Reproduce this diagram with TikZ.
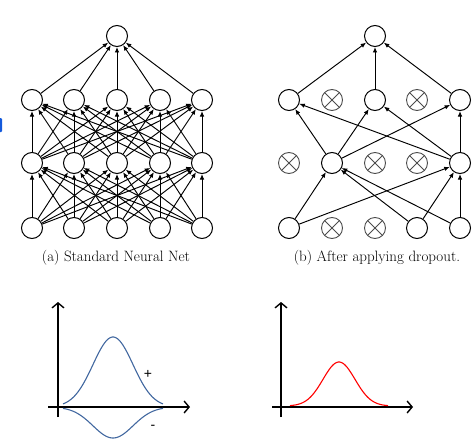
\documentclass[tikz,border=0pt]{standalone}
\usepackage{fontspec}
\newfontfamily\signfont{Liberation Sans}
\usetikzlibrary{arrows.meta}
\definecolor{curveblue}{RGB}{66,104,160}
\definecolor{markblue}{RGB}{20,90,220}
\begin{document}
\begin{tikzpicture}[x=1pt,y=-1pt,
  neuron/.style={circle,draw,line width=1pt,minimum size=21pt,inner sep=0pt},
  dropped/.style={circle,draw=black!70,line width=0.9pt,minimum size=21pt,inner sep=0pt,
    path picture={\draw[black!70,line width=0.9pt]
      (path picture bounding box.north west)--(path picture bounding box.south east)
      (path picture bounding box.north east)--(path picture bounding box.south west);}},
  conn/.style={-{Latex[length=5.5pt,width=4.5pt]},line width=0.95pt},
  axis/.style={-{Straight Barb[length=5pt,width=12pt]},line width=1.4pt},
  caption/.style={font=\fontsize{15}{18}\selectfont},
  sign/.style={font=\signfont\fontsize{14}{16}\selectfont}]
\useasboundingbox (0,0) rectangle (473,441);
\fill[markblue,rounded corners=1pt] (-2,118) rectangle (2,132);
% ---------- (a) standard network ----------
\foreach \x [count=\i] in {32,74,117,160,202} {
  \node[neuron] (a\i) at (\x,228) {};
  \node[neuron] (b\i) at (\x,163) {};
  \node[neuron] (c\i) at (\x,100) {};
}
\node[neuron] (at) at (117,36) {};
\foreach \i in {1,...,5} {
  \foreach \j in {1,...,5} {
    \draw[conn] (a\i) -- (b\j);
    \draw[conn] (b\i) -- (c\j);
  }
  \draw[conn] (c\i) -- (at);
}
\node[caption] (capa) at (116,258) {(a) Standard Neural Net};
% ---------- (b) dropout network ----------
\node[neuron]  (p1) at (289,228) {};
\node[dropped] (p2) at (332,228) {};
\node[dropped] (p3) at (375,228) {};
\node[neuron]  (p4) at (417,228) {};
\node[neuron]  (p5) at (460,228) {};
\node[dropped] (q1) at (289,163) {};
\node[neuron]  (q2) at (332,163) {};
\node[dropped] (q3) at (375,163) {};
\node[dropped] (q4) at (417,163) {};
\node[neuron]  (q5) at (460,163) {};
\node[neuron]  (s1) at (289,100) {};
\node[dropped] (s2) at (332,100) {};
\node[neuron]  (s3) at (375,100) {};
\node[dropped] (s4) at (417,100) {};
\node[neuron]  (s5) at (460,100) {};
\node[neuron]  (pt) at (375,36) {};
\draw[conn] (p1) -- (q2);
\draw[conn] (p4) -- (q2);
\draw[conn] (p5) -- (q2);
\draw[conn] (p1) -- (q5);
\draw[conn] (p4) -- (q5);
\draw[conn] (p5) -- (q5);
\draw[conn] (q2) -- (s1);
\draw[conn] (q2) -- (s3);
\draw[conn] (q2) -- (s5);
\draw[conn] (q5) -- (s1);
\draw[conn] (q5) -- (s3);
\draw[conn] (q5) -- (s5);
\draw[conn] (s1) -- (pt);
\draw[conn] (s3) -- (pt);
\draw[conn] (s5) -- (pt);
\node[caption] (capb) at (377,258) {(b) After applying dropout.};
% ---------- lower left plot ----------
\coordinate (lyb) at (58,417);
\coordinate (lyt) at (58,302);
\coordinate (lxl) at (48,407);
\coordinate (lxr) at (190,407);
\draw[axis] (lyb) -- (lyt);
\draw[axis] (lxl) -- (lxr);
\draw[curveblue,line width=1.1pt,domain=63:163,samples=80,smooth]
  plot (\x,{407-70*exp(-((\x-113)/20)^2/2)});
\draw[curveblue,line width=1.1pt,domain=63:163,samples=80,smooth]
  plot (\x,{407+31*exp(-((\x-113)/20)^2/2)});
\node[sign] (plus) at (148,374) {+};
\node[sign] (minus) at (153,427) {-};
% ---------- lower right plot ----------
\coordinate (ryb) at (281,417);
\coordinate (ryt) at (281,302);
\coordinate (rxl) at (272,407);
\coordinate (rxr) at (413,407);
\draw[axis] (ryb) -- (ryt);
\draw[axis] (rxl) -- (rxr);
\draw[red,line width=1.1pt,domain=290:388,samples=80,smooth]
  plot (\x,{406-44*exp(-((\x-339)/16)^2/2)});
\end{tikzpicture}
\end{document}
